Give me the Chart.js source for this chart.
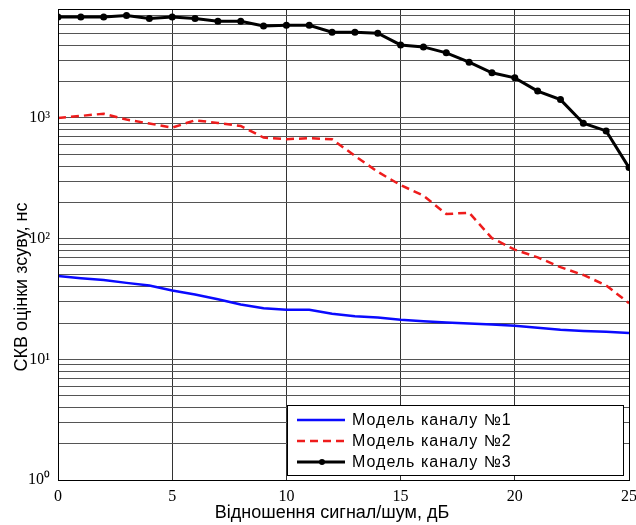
<!DOCTYPE html>
<html>
<head>
<meta charset="utf-8">
<script src="https://cdn.jsdelivr.net/npm/chart.js@4.4.1/dist/chart.umd.min.js"></script>
<style>
	html, body { margin: 0; padding: 0; background: #fff; }
	#wrap { width: 636px; height: 525px; }
</style>
</head>
<body>
<div id="wrap"><canvas id="myChart" width="636" height="525"></canvas></div>
<script>
// дані з графіка
var snr = [0,1,2,3,4,5,6,7,8,9,10,11,12,13,14,15,16,17,18,19,20,21,22,23,24,25];
var model1 = [49,47,45.5,43,40.9,37.2,34.5,31.5,28.5,26.5,25.8,25.8,23.9,22.8,22.2,21.3,20.7,20.2,19.8,19.4,19.0,18.3,17.6,17.2,16.9,16.5];
var model2 = [1000,1040,1085,970,900,832,957,910,859,688,667,680,667,485,358,278,227,160,164,101,81,70,58,50,41,29.2];
var model3 = [6870,6870,6870,7060,6670,6870,6670,6330,6330,5790,5870,5870,5140,5140,5040,4030,3880,3465,2900,2370,2150,1670,1420,904,781,388];
var labels = ['Модель каналу №1','Модель каналу №2','Модель каналу №3'];
var xTicks = [0,5,10,15,20,25];
var yTicks = [1,2,3,4,5,6,7,8,9,10,20,30,40,50,60,70,80,90,100,200,300,400,500,600,700,800,900,1000,2000,3000,4000,5000,6000,7000,8000];
var xTitle = 'Відношення сигнал/шум, дБ';
var yTitle = 'СКВ оцінки зсуву, нс';
var supDigits = {'0':'⁰','1':'¹','2':'²','3':'³'};

function toPoints(arr){
	return snr.map(function(x, i){ return {x: x, y: arr[i]}; });
}

//рамка навколо області графіка + підписи осей
var framePlugin = {
	id: 'frame',
	afterDraw: function(chart){
		var a = chart.chartArea, ctx = chart.ctx;
		ctx.save();
		ctx.strokeStyle = '#000';
		ctx.lineWidth = 1;
		ctx.strokeRect(a.left + 0.5, a.top + 0.5, a.right - a.left, a.bottom - a.top);
		ctx.font = '18px "Liberation Sans", Arial, sans-serif';
		ctx.fillStyle = '#000';
		ctx.textAlign = 'center';
		ctx.textBaseline = 'middle';
		ctx.fillText(xTitle, 332, 513);
		ctx.translate(22, 287);
		ctx.rotate(-Math.PI / 2);
		ctx.fillText(yTitle, 0, 0);
		ctx.restore();
	}
};

//легенда в правому нижньому куті
var legendBox = {
	id: 'legendBox',
	afterDraw: function(chart){
		var ctx = chart.ctx;
		var x0 = 287, y0 = 405, w = 336, h = 70;
		ctx.save();
		ctx.fillStyle = '#fff';
		ctx.fillRect(x0, y0, w, h);
		ctx.strokeStyle = '#000';
		ctx.lineWidth = 1;
		ctx.strokeRect(x0 + 0.5, y0 + 0.5, w, h);
		ctx.font = '16px "Liberation Sans", Arial, sans-serif';
		ctx.letterSpacing = '1px';
		ctx.textBaseline = 'middle';
		chart.data.datasets.forEach(function(ds, i){
			var y = y0 + 15 + i * 21;
			ctx.strokeStyle = ds.borderColor;
			ctx.lineWidth = ds.borderWidth;
			ctx.setLineDash(ds.borderDash || []);
			ctx.beginPath();
			ctx.moveTo(297, y);
			ctx.lineTo(345, y);
			ctx.stroke();
			ctx.setLineDash([]);
			if (ds.pointRadius > 0){
				ctx.fillStyle = ds.borderColor;
				ctx.beginPath();
				ctx.arc(322, y, 3, 0, Math.PI * 2);
				ctx.fill();
			}
			ctx.fillStyle = '#000';
			ctx.fillText(ds.label, 352, y + 1);
		});
		ctx.restore();
	}
};

var ctx = document.getElementById('myChart').getContext('2d');
var chart = new Chart(ctx, {
	type: 'line',
	data: {
		datasets: [{
			label: labels[0],
			data: toPoints(model1),
			borderColor: '#0a0aff',
			borderWidth: 2.5,
			pointRadius: 0,
			fill: false
		}, {
			label: labels[1],
			data: toPoints(model2),
			borderColor: '#ee1c1c',
			borderWidth: 2.5,
			borderDash: [8, 5],
			pointRadius: 0,
			fill: false
		}, {
			label: labels[2],
			data: toPoints(model3),
			borderColor: '#000',
			backgroundColor: '#000',
			borderWidth: 3,
			pointRadius: 3.5,
			pointBorderWidth: 0,
			fill: false
		}]
	},
	options: {
		responsive: false,
		animation: false,
		layout: { padding: { top: 9, right: 7, left: 0, bottom: 0 } },
		plugins: { legend: { display: false }, tooltip: { enabled: false } },
		scales: {
			x: {
				type: 'linear',
				min: 0, max: 25,
				afterBuildTicks: function(axis){
					axis.ticks = xTicks.map(function(v){ return {value: v}; });
				},
				afterFit: function(axis){
					axis.height = 45;
					axis.paddingLeft = 0;
					axis.paddingRight = 0;
				},
				grid: { color: '#333', lineWidth: 1, drawTicks: false },
				border: { color: '#000' },
				ticks: {
					color: '#000',
					padding: 7,
					maxRotation: 0,
					autoSkip: false,
					font: { family: '"Liberation Serif", "Times New Roman", serif', size: 16 }
				}
			},
			y: {
				type: 'logarithmic',
				min: 1, max: 8000,
				afterBuildTicks: function(axis){
					axis.ticks = yTicks.map(function(v){ return {value: v}; });
				},
				afterFit: function(axis){
					axis.width = 58;
					axis.paddingTop = 0;
					axis.paddingBottom = 0;
				},
				grid: { color: '#555', lineWidth: 1, drawTicks: false },
				border: { color: '#000' },
				ticks: {
					color: '#000',
					padding: 8,
					autoSkip: false,
					font: { family: '"Liberation Serif", "Times New Roman", serif', size: 16 },
					callback: function(value){
						var p = Math.log10(value);
						if (Math.abs(p - Math.round(p)) < 1e-9){
							return '10' + supDigits[String(Math.round(p))];
						}
						return '';
					}
				}
			}
		}
	},
	plugins: [framePlugin, legendBox]
});
</script>
</body>
</html>
